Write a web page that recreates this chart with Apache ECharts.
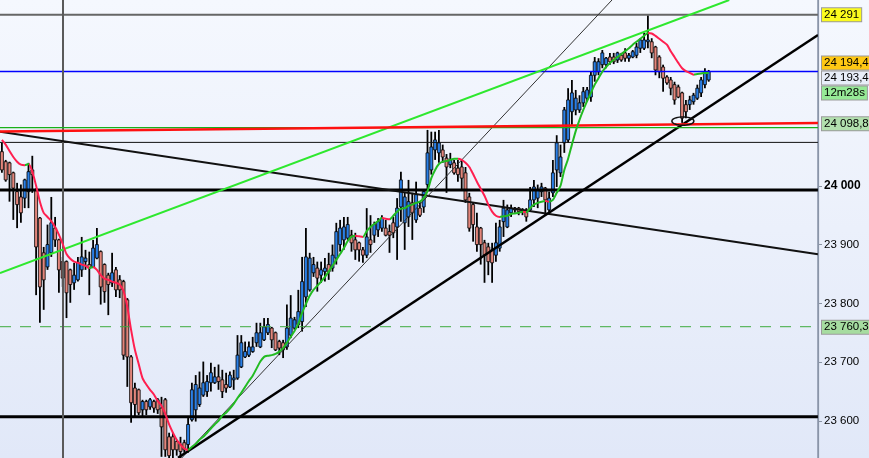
<!DOCTYPE html>
<html><head><meta charset="utf-8">
<script src="https://cdn.jsdelivr.net/npm/echarts@6/dist/echarts.min.js"></script>
<style>
html,body{margin:0;padding:0;width:869px;height:458px;overflow:hidden;background:linear-gradient(#f5f8fe,#e1e8f8);}
#c{width:869px;height:458px;}
</style>
</head><body><div id="c"></div>
<script>
// ---- data (prices) ----
const opens = [
24058,24041,24039,24022,23990,23981,23979,23990,24027,23993,
23945,23886,23862,23886,23928,23908,23871,23871,23857,23835,
23840,23857,23871,23866,23862,23877,23888,23866,23848,23835,
23857,23840,23837,23806,23709,23656,23653,23619,23633,23624,
23633,23636,23622,23636,23573,23573,23565,23560,23563,23560,
23602,23619,23628,23644,23650,23665,23665,23675,23670,23662,
23658,23670,23673,23692,23709,23712,23718,23733,23726,23738,
23750,23758,23750,23735,23733,23726,23746,23758,23764,23769,
23811,23823,23852,23860,23848,23854,23866,23860,23877,23900,
23908,23911,23916,23908,23903,23891,23882,23908,23916,23925,
23928,23928,23922,23937,23930,23964,23937,23947,23971,23942,
23962,23964,24002,24027,24061,24056,24061,24047,24036,24039,
24030,24032,24022,23981,23968,23930,23928,23903,23896,23891,
23882,23894,23939,23930,23954,23959,23962,23956,23959,23959,
23976,23979,23990,23996,23959,23988,24027,24022,24073,24078,
24126,24129,24129,24141,24149,24151,24188,24194,24206,24206,
24219,24219,24214,24222,24226,24217,24219,24222,24234,24234,
24245,24245,24236,24219,24202,24185,24180,24172,24168,24158,
24138,24138,24143,24149,24158,24172,24180];
const closes = [
24027,24010,24019,23996,23968,23954,24010,24024,24019,23896,
23828,23840,23900,23937,23908,23857,23843,23818,23832,23848,
23869,23879,23877,23860,23894,23900,23828,23820,23832,23852,
23823,23823,23712,23709,23631,23628,23614,23633,23619,23636,
23622,23619,23590,23551,23541,23551,23551,23548,23551,23594,
23653,23662,23656,23665,23667,23682,23675,23667,23650,23656,
23678,23673,23712,23733,23718,23726,23726,23750,23750,23760,
23764,23738,23721,23724,23721,23758,23775,23772,23786,23837,
23879,23877,23866,23843,23857,23860,23854,23882,23922,23928,
23930,23934,23903,23891,23891,23882,23913,23900,23934,23939,
23945,23916,23916,23920,23962,24010,23981,23973,23954,23985,
23950,23990,24056,24066,24078,24073,24049,24032,24044,24022,
24019,24013,23976,23928,23934,23900,23900,23882,23871,23869,
23903,23930,23962,23959,23962,23962,23956,23959,23947,23976,
23998,23993,23998,23976,23979,24022,24073,24049,24129,24146,
24158,24149,24141,24160,24163,24188,24211,24211,24226,24217,
24211,24211,24226,24214,24217,24222,24228,24236,24248,24248,
24248,24226,24197,24194,24183,24175,24166,24146,24151,24115,
24126,24146,24154,24166,24180,24194,24194.4];
const lows = [
24022,24007,23973,23942,23928,23937,23962,23962,23988,23814,
23767,23789,23857,23879,23896,23818,23828,23775,23801,23823,
23837,23845,23857,23814,23860,23875,23798,23801,23780,23828,
23811,23809,23704,23658,23597,23607,23610,23607,23610,23619,
23614,23612,23539,23539,23533,23533,23541,23533,23546,23546,
23599,23599,23624,23641,23641,23650,23663,23653,23639,23648,
23656,23653,23670,23690,23707,23709,23716,23726,23724,23736,
23746,23724,23719,23712,23707,23721,23741,23755,23758,23752,
23794,23820,23845,23820,23835,23837,23840,23854,23866,23888,
23891,23908,23888,23874,23871,23869,23877,23886,23903,23913,
23922,23914,23886,23911,23874,23939,23891,23930,23908,23937,
23947,23954,23993,24019,24044,24039,24039,23988,24030,24019,
24007,23993,23971,23922,23905,23888,23866,23835,23848,23835,
23871,23888,23913,23928,23947,23954,23950,23950,23939,23956,
23964,23962,23981,23950,23954,23981,23998,24015,24056,24073,
24104,24120,24124,24134,24143,24143,24177,24188,24200,24200,
24206,24207,24209,24211,24211,24211,24217,24217,24226,24231,
24234,24217,24188,24183,24160,24172,24154,24138,24149,24107,
24115,24129,24138,24146,24151,24166,24177];
const highs = [
24073,24044,24041,24024,24005,24002,24012,24039,24051,23996,
23947,23896,23934,23981,23947,23910,23879,23873,23859,23869,
23879,23913,23891,23888,23908,23928,23890,23868,23852,23886,
23862,23848,23840,23809,23712,23665,23655,23636,23636,23639,
23636,23639,23641,23639,23580,23580,23568,23573,23568,23605,
23665,23678,23684,23701,23678,23699,23692,23696,23687,23682,
23684,23687,23746,23746,23735,23735,23743,23767,23767,23775,
23775,23760,23752,23738,23738,23798,23814,23777,23823,23879,
23928,23886,23879,23871,23871,23877,23886,23900,23937,23942,
23947,23947,23925,23920,23905,23896,23962,23950,23939,23945,
23950,23942,23934,23947,23979,24024,23988,24010,23988,24007,
23973,23993,24095,24092,24092,24095,24070,24054,24056,24044,
24044,24044,24032,23988,23971,23954,23930,23908,23903,23903,
23937,23942,23976,23968,23968,23964,23964,23962,23962,23998,
24010,24002,24005,23998,23990,24044,24086,24070,24134,24166,
24180,24163,24154,24168,24168,24194,24219,24217,24231,24219,
24226,24226,24228,24226,24234,24226,24231,24243,24251,24260,
24290,24251,24238,24222,24206,24188,24185,24177,24172,24160,
24146,24153,24158,24172,24185,24200,24197];
const maValues = [
24078,24070,24059,24049,24041,24036,24035,24037,24024,24000,
23973,23954,23947,23940,23930,23917,23901,23884,23876,23871,
23869,23866,23864,23860,23862,23857,23848,23842,23840,23837,
23835,23832,23821,23794,23755,23721,23697,23673,23662,23653,
23645,23634,23626,23612,23594,23580,23568,23560,23553,23551,
23556,23561,23568,23573,23580,23587,23594,23600,23609,23614,
23621,23629,23639,23648,23658,23668,23677,23689,23701,23709,
23711,23712,23714,23718,23724,23733,23743,23753,23765,23784,
23799,23813,23823,23830,23837,23845,23854,23864,23874,23884,
23894,23906,23913,23915,23914,23913,23923,23930,23935,23940,
23945,23944,23943,23949,23956,23961,23962,23966,23968,23971,
23973,23979,23991,24013,24027,24037,24041,24042,24044,24046,
24046,24044,24039,24032,24020,24007,23995,23983,23968,23956,
23949,23947,23948,23949,23952,23953,23954,23956,23955,23962,
23968,23971,23973,23974,23973,23976,23988,24000,24027,24046,
24070,24093,24112,24129,24144,24158,24172,24183,24194,24202,
24209,24214,24219,24224,24229,24234,24240,24245,24250,24255,
24260,24259,24255,24250,24245,24240,24229,24219,24209,24200,
24195,24192,24189,24190,24191,24192,24192];

// axis
const yMin = 23537, yMax = 24316;
const xMin = -0.5, xMax = 214.76;
const axisTickValues = [23600, 23700, 23800, 23900, 24000];

// horizontal levels
const levelTop = 24291, levelBid = 24194.4, levelGreen = 24098.8, levelThin = 24073.8;
const levelThick1 = 23993, levelThick2 = 23607, levelDashed = 23760.3;
// vertical marker (bar index)
const vMarker = 16.08;
// trend lines [barIndex, price]
const lineDesc = [[-0.5, 24092], [214.76, 23883.5]];
const lineRed = [[-0.5, 24092.4], [214.76, 24106.9]];
const lineGreen = [[-0.5, 23851.4], [191.4, 24316]];
const lineThin = [[46.87, 23534], [160.55, 24316]];
const lineThick = [[46.34, 23537.4], [214.76, 24256.5]];
const ellipseCenter = [179.2, 24110];
// price tags
const tagPrices = [24291, 24194.4, 24194.4, 24194.4, 24098.8, 23760.3];
const tagTexts = ['24 291', '24 194,4', '24 193,4', '12m28s', '24 098,8', '23 760,3'];

const tagStyle = [
  {bg:'#fbfb1e', off:0}, {bg:'#ffc814', off:-8.5}, {bg:'#e8eef9', off:6.5},
  {bg:'#96ea96', off:21.5}, {bg:'#b2e0ae', off:-4}, {bg:'#a6dca0', off:0.5}
];

const RED = '#ff1f4f', GREEN = '#22bb22';
const pieces = [];
let start = 0, cur = null;
for (let i = 1; i < maValues.length; i++) {
  const col = maValues[i] >= maValues[i-1] ? GREEN : RED;
  if (cur === null) cur = col;
  if (col !== cur) { pieces.push({gte: start === 0 ? -10 : start, lt: i-1, color: cur}); start = i-1; cur = col; }
}
pieces.push({gte: start, lte: 300, color: cur});

function fmt(v){ return String(v).replace(/\B(?=(\d{3})+(?!\d))/g, ' '); }
function seg(data, color, width, type, z){
  return {type:'line', data:data, symbol:'none', silent:true, z:z||3, clip:true,
    lineStyle:{color:color, width:width, type:type||'solid'}, animation:false};
}

const chart = echarts.init(document.getElementById('c'), null, {renderer:'canvas'});
const candleData = opens.map((o,i)=>[i, o, closes[i], lows[i], highs[i]]);
const hl = v => [[xMin, v], [xMax, v]];
const FONT = 'Liberation Sans, Arial, sans-serif';

chart.setOption({
  animation:false,
  backgroundColor:'transparent',
  grid:{left:0, right:51, top:0, bottom:0},
  xAxis:{type:'value', min:xMin, max:xMax, show:false},
  yAxis:{type:'value', position:'right', min:yMin, max:yMax,
    splitLine:{show:false},
    axisLine:{show:true, onZero:false, lineStyle:{color:'#8a95a8', width:1.5}},
    axisTick:{show:true, length:4, lineStyle:{color:'#8a94a4'}, customValues:axisTickValues},
    axisLabel:{customValues:axisTickValues, color:'#000', fontSize:11.5, fontFamily:FONT, margin:6,
      formatter: v => v === 24000 ? '{b|' + fmt(v) + '}' : fmt(v),
      rich:{b:{fontWeight:'bold', fontSize:12, color:'#000', fontFamily:FONT}}}
  },
  visualMap:{show:false, type:'piecewise', seriesIndex:1, dimension:0, pieces:pieces},
  series:[
    {type:'custom', clip:true, z:2, data:candleData, encode:{x:0, y:[1,2,3,4]},
      renderItem:function(params, api){
        const i=api.value(0), o=api.value(1), c=api.value(2), l=api.value(3), h=api.value(4);
        const pH=api.coord([i,h]), pL=api.coord([i,l]), pO=api.coord([i,o]), pC=api.coord([i,c]);
        const x=pH[0];
        const top=Math.min(pO[1],pC[1]), bot=Math.max(pO[1],pC[1]);
        const up=c>=o;
        return {type:'group', children:[
          {type:'line', shape:{x1:x, y1:pH[1], x2:x, y2:pL[1]}, style:{stroke:'#000', lineWidth:1.8}},
          {type:'rect', shape:{x:x-1.5, y:top, width:3, height:Math.max(bot-top,1.5)},
            style:{fill: up ? '#2a7fe6' : '#e3867c', stroke:'#000', lineWidth:0.8}}
        ]};
      }},
    {type:'line', data:maValues.map((v,i)=>[i,v]), symbol:'none', smooth:0.25, z:6, silent:true,
      lineStyle:{width:2}},
    seg(hl(levelTop), '#666', 2),
    seg(hl(levelBid), '#0000ff', 1.3),
    seg(hl(levelThin), '#111', 1),
    seg(hl(levelThick1), '#000', 3),
    seg(hl(levelThick2), '#000', 3),
    seg(hl(levelDashed), '#3daa3d', 1, [11,9]),
    seg([[vMarker, yMin],[vMarker, yMax]], '#5a5a5a', 2),
    seg(lineDesc, '#111', 2),
    seg(lineThin, '#333', 1),
    seg(lineThick, '#000', 2.5),
    seg(lineGreen, '#2ee82e', 2),
    seg(hl(levelGreen), '#19b019', 1.2, 'solid', 4),
    seg(lineRed, '#ff1010', 2.5, 'solid', 5),
    {type:'custom', z:7, data:[ellipseCenter], renderItem:function(params, api){
      const p = api.coord([api.value(0), api.value(1)]);
      const pts = [];
      for (let k=0;k<=44;k++){ const a = k/40*2*Math.PI; pts.push([p[0]+11*Math.cos(a), p[1]+4.2*Math.sin(a)]); }
      return {type:'polyline', shape:{points:pts}, style:{stroke:'#111', lineWidth:1.5, fill:null}};
    }}
  ]
});

const gr = tagPrices.map((pr, k) => {
  const y = chart.convertToPixel({yAxisIndex:0}, pr) + tagStyle[k].off;
  return {type:'text', x:822, y:y, z:100,
    style:{text:tagTexts[k], fill:'#000', font:'11.5px "Liberation Sans", Arial, sans-serif',
      backgroundColor:tagStyle[k].bg, borderColor:'#9a9a9a', borderWidth:1, padding:[1,2,0,2],
      verticalAlign:'middle', align:'left'}};
});
gr.push({type:'line', z:99, shape:{x1:818.5, y1:0, x2:818.5, y2:458}, style:{stroke:'#8a95a8', lineWidth:1.2}});
chart.setOption({graphic:gr});
</script></body></html>
